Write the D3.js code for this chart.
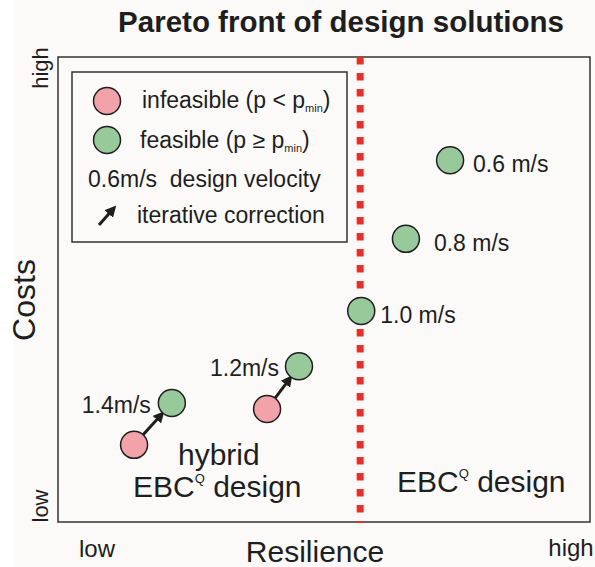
<!DOCTYPE html>
<html><head><meta charset="utf-8">
<script src="https://cdn.jsdelivr.net/npm/d3@7"></script>
<style>body{margin:0;background:#fbfaf9;}svg{display:block;font-family:Arial,"Liberation Sans",sans-serif;}</style>
</head><body><svg id="c" width="595" height="567"></svg>
<script>
const title = "Pareto front of design solutions";
const xLabel = "Resilience", yLabel = "Costs";
const axisTicks = ["low", "high"];
// design solutions (resilience, costs)
const velocities = ["0.6 m/s", "0.8 m/s", "1.0 m/s", "1.2m/s", "1.4m/s"];
const feasibleX = [0.737, 0.654, 0.570, 0.453, 0.214];
const feasibleY = [0.778, 0.609, 0.454, 0.335, 0.256];
const infeasibleVel = ["1.2m/s", "1.4m/s"];
const infeasibleX = [0.393, 0.143];
const infeasibleY = [0.243, 0.166];
const threshold = 0.568;

const svg = d3.select("#c");
const L = 58, R = 590, T = 57, B = 522;
const x = d3.scaleLinear().domain([0, 1]).range([L, R]);
const y = d3.scaleLinear().domain([0, 1]).range([B, T]);
const pink = "#f2a3aa", green = "#97c99b", ink = "#1e1e1e";
const fs = 23;

svg.append("rect").attr("width", 14).attr("height", 567).attr("fill", "#ffffff");

svg.append("defs").append("marker").attr("id", "ah").attr("viewBox", "0 0 10 10")
  .attr("refX", 7).attr("refY", 5).attr("markerWidth", 3.8).attr("markerHeight", 3.8)
  .attr("orient", "auto").append("path").attr("d", "M0,0L10,5L0,10z").attr("fill", ink);

// title
svg.append("text").attr("x", 341).attr("y", 32).attr("text-anchor", "middle")
  .attr("font-size", 29.5).attr("font-weight", "bold").attr("fill", ink).text(title);

// frame
svg.append("rect").attr("x", L).attr("y", T).attr("width", R - L).attr("height", B - T)
  .attr("fill", "none").attr("stroke", "#333").attr("stroke-width", 1.5);

// threshold
svg.append("line").attr("x1", x(threshold)).attr("x2", x(threshold)).attr("y1", T).attr("y2", B + 1)
  .attr("stroke", "#e53027").attr("stroke-width", 7).attr("stroke-dasharray", "7.5,8.5");

// axis labels
svg.append("text").attr("x", 315).attr("y", 562).attr("text-anchor", "middle")
  .attr("font-size", 30).attr("fill", ink).text(xLabel);
svg.append("text").attr("transform", "translate(35,300) rotate(-90)").attr("text-anchor", "middle")
  .attr("font-size", 32).attr("fill", ink).text(yLabel);
svg.append("text").attr("x", 97).attr("y", 557).attr("text-anchor", "middle").attr("font-size", 24).attr("fill", ink).text(axisTicks[0]);
svg.append("text").attr("x", 571).attr("y", 556).attr("text-anchor", "middle").attr("font-size", 24).attr("fill", ink).text(axisTicks[1]);
svg.append("text").attr("transform", "translate(48,506) rotate(-90)").attr("text-anchor", "middle").attr("font-size", 22).attr("fill", ink).text(axisTicks[0]);
svg.append("text").attr("transform", "translate(48,68) rotate(-90)").attr("text-anchor", "middle").attr("font-size", 22).attr("fill", ink).text(axisTicks[1]);

// arrows (iterative correction)
const r = 13.5;
infeasibleVel.forEach((v, i) => {
  const j = velocities.indexOf(v);
  const x0 = x(infeasibleX[i]), y0 = y(infeasibleY[i]), x1 = x(feasibleX[j]), y1 = y(feasibleY[j]);
  const d = Math.hypot(x1 - x0, y1 - y0), ux = (x1 - x0) / d, uy = (y1 - y0) / d;
  svg.append("line").attr("x1", x0 + ux * r).attr("y1", y0 + uy * r)
    .attr("x2", x1 - ux * (r + 1)).attr("y2", y1 - uy * (r + 1))
    .attr("stroke", ink).attr("stroke-width", 3).attr("marker-end", "url(#ah)");
});

// points
svg.selectAll(".inf").data(infeasibleX).join("circle")
  .attr("cx", d => x(d)).attr("cy", (d, i) => y(infeasibleY[i])).attr("r", r)
  .attr("fill", pink).attr("stroke", ink).attr("stroke-width", 1.5);
svg.selectAll(".fea").data(feasibleX).join("circle")
  .attr("cx", d => x(d)).attr("cy", (d, i) => y(feasibleY[i])).attr("r", r)
  .attr("fill", green).attr("stroke", ink).attr("stroke-width", 1.5);

// velocity labels
const lblOff = [[23, 12, "start"], [28, 12, "start"], [19, 12, "start"], [-20, 10, "end"], [-21, 10, "end"]];
velocities.forEach((v, i) => {
  svg.append("text").attr("x", x(feasibleX[i]) + lblOff[i][0]).attr("y", y(feasibleY[i]) + lblOff[i][1])
    .attr("text-anchor", lblOff[i][2]).attr("font-size", fs).attr("fill", ink).text(v);
});

// region labels
function ebc(xp, yp) {
  const t = svg.append("text").attr("x", xp).attr("y", yp).attr("font-size", 30).attr("fill", ink);
  t.append("tspan").text("EBC");
  t.append("tspan").attr("font-size", 13).attr("dy", -14).text("Q");
  t.append("tspan").attr("dy", 14).text(" design");
}
svg.append("text").attr("x", 178).attr("y", 465).attr("font-size", 30).attr("fill", ink).text("hybrid");
ebc(133, 497);
ebc(397, 492);

// legend
svg.append("rect").attr("x", 72).attr("y", 72).attr("width", 275).attr("height", 170)
  .attr("fill", "none").attr("stroke", "#333").attr("stroke-width", 1.5);
svg.append("circle").attr("cx", 107).attr("cy", 101).attr("r", r).attr("fill", pink).attr("stroke", ink).attr("stroke-width", 1.5);
svg.append("circle").attr("cx", 107).attr("cy", 140).attr("r", r).attr("fill", green).attr("stroke", ink).attr("stroke-width", 1.5);
function pmin(xp, yp, pre) {
  const t = svg.append("text").attr("x", xp).attr("y", yp).attr("font-size", fs).attr("fill", ink);
  t.append("tspan").text(pre);
  t.append("tspan").attr("font-size", 11).attr("dy", 4).text("min");
  t.append("tspan").attr("dy", -4).text(")");
}
pmin(142, 108, "infeasible (p < p");
pmin(140, 148, "feasible (p \u2265 p");
svg.append("text").attr("x", 88).attr("y", 187).attr("font-size", fs).attr("fill", ink)
  .attr("xml:space", "preserve").style("white-space", "pre").text("0.6m/s  design velocity");
svg.append("line").attr("x1", 99).attr("y1", 225).attr("x2", 114).attr("y2", 208)
  .attr("stroke", ink).attr("stroke-width", 3).attr("marker-end", "url(#ah)");
svg.append("text").attr("x", 137).attr("y", 223).attr("font-size", fs).attr("fill", ink).text("iterative correction");
</script></body></html>
